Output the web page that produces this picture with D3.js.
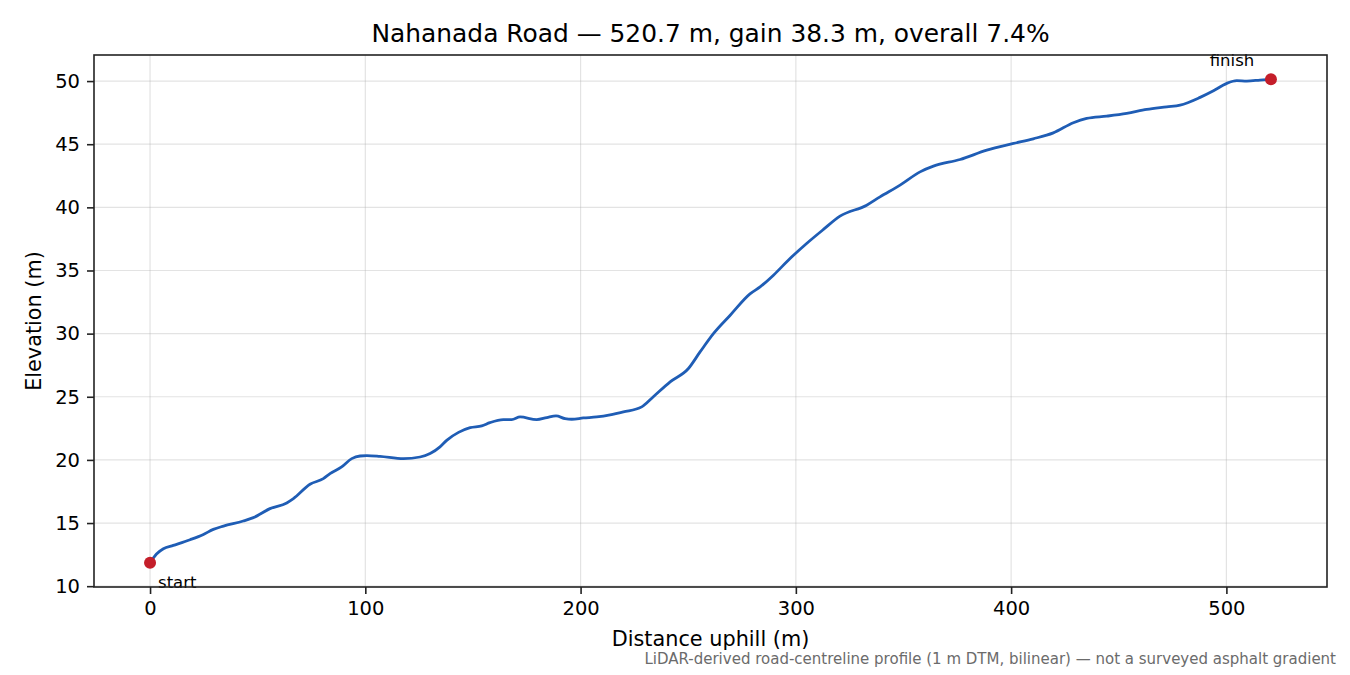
<!DOCTYPE html>
<html>
<head>
<meta charset="utf-8">
<script src="https://cdn.jsdelivr.net/npm/d3@7"></script>
<style>
  body { margin: 0; background: #fff; }
  svg { font-family: "DejaVu Sans", sans-serif; }
</style>
</head>
<body>
<div id="chart"></div>
<script>
// profile (distance m, elevation m)
const distance = [0, 3, 6.2, 10.8, 18.6, 24.8, 29.4, 34.1, 43.3, 48, 55.7, 63.5, 66.6, 74.3, 80.5, 83.6, 89,
  93.7, 97.6, 100.7, 106.8, 117.7, 125.4, 130.1, 134.7, 137.8, 143.3, 148.7, 154.1, 157.9, 164.1, 168,
  171.9, 179.6, 184.3, 188.6, 192.8, 195.9, 201.3, 207.5, 213.7, 219.9, 228.4, 233.8, 241.6, 250.1,
  255.5, 261.7, 269.4, 278.7, 283.4, 289.6, 297.3, 305, 312.8, 320.5, 332.9, 339.1, 348.4,
  357.7, 363.9, 376.3, 388.7, 401.1, 410.3, 419.6, 428.9, 435.1, 444.4, 453.7, 463, 472.3, 478.5,
  487.8, 494, 500.2, 504.8, 509.5, 515.6, 520.7];
const elevation = [11.85, 12.55, 12.97, 13.23, 13.68, 14.1, 14.5, 14.76, 15.16, 15.43, 16.14, 16.59, 16.93,
  18.07, 18.52, 18.91, 19.44, 20.1, 20.31, 20.34, 20.28, 20.1, 20.23, 20.5, 21.03, 21.55, 22.18, 22.55,
  22.69, 22.95, 23.19, 23.19, 23.4, 23.19, 23.35, 23.48, 23.27, 23.22, 23.32, 23.4, 23.56, 23.8, 24.2,
  25.0, 26.18, 27.24, 28.55, 30.0, 31.44, 33.15, 33.7, 34.63, 35.95, 37.14, 38.25, 39.3, 40.17,
  40.83, 41.76, 42.81, 43.26, 43.79, 44.53, 45.06, 45.43, 45.9, 46.7, 47.04, 47.22, 47.44, 47.75,
  47.96, 48.1, 48.71, 49.23, 49.82, 50.03, 50.0, 50.08, 50.15];
const xTicks = [0, 100, 200, 300, 400, 500];
const yTicks = [10, 15, 20, 25, 30, 35, 40, 45, 50];

const width = 1350, height = 675;
const margin = { top: 55, right: 23, bottom: 88, left: 94 };

const data = distance.map((d, i) => ({ x: d, y: elevation[i] }));

const svg = d3.select("#chart").append("svg")
  .attr("width", width)
  .attr("height", height);

// matplotlib-style 5% padding
const xMin = d3.min(distance), xMax = d3.max(distance);
const yMin = d3.min(elevation), yMax = d3.max(elevation);
const xPad = (xMax - xMin) * 0.05, yPad = (yMax - yMin) * 0.05;

const x = d3.scaleLinear()
  .domain([xMin - xPad, xMax + xPad])
  .range([margin.left, width - margin.right]);
const y = d3.scaleLinear()
  .domain([yMin - yPad, yMax + yPad])
  .range([height - margin.bottom, margin.top]);

// grid
svg.append("g")
  .selectAll("line")
  .data(xTicks)
  .enter().append("line")
  .attr("x1", d => x(d)).attr("x2", d => x(d))
  .attr("y1", margin.top).attr("y2", height - margin.bottom)
  .attr("stroke", "#b0b0b0").attr("stroke-opacity", 0.35).attr("stroke-width", 1.2);
svg.append("g")
  .selectAll("line")
  .data(yTicks)
  .enter().append("line")
  .attr("x1", margin.left).attr("x2", width - margin.right)
  .attr("y1", d => y(d)).attr("y2", d => y(d))
  .attr("stroke", "#b0b0b0").attr("stroke-opacity", 0.35).attr("stroke-width", 1.2);

// profile line
const line = d3.line()
  .x(d => x(d.x))
  .y(d => y(d.y))
  .curve(d3.curveMonotoneX);

svg.append("path")
  .datum(data)
  .attr("fill", "none")
  .attr("stroke", "#1f5db5")
  .attr("stroke-width", 2.8)
  .attr("stroke-linejoin", "round")
  .attr("d", line);

// start / finish markers
const ends = [data[0], data[data.length - 1]];
svg.selectAll("circle.end")
  .data(ends)
  .enter().append("circle")
  .attr("class", "end")
  .attr("cx", d => x(d.x))
  .attr("cy", d => y(d.y))
  .attr("r", 6)
  .attr("fill", "#c41e2a");

svg.append("text")
  .attr("x", x(ends[0].x) + 8)
  .attr("y", y(ends[0].y) + 25)
  .attr("font-size", 16.5)
  .text("start");
svg.append("text")
  .attr("x", x(ends[1].x) - 39)
  .attr("y", y(ends[1].y) - 13)
  .attr("text-anchor", "middle")
  .attr("font-size", 16.5)
  .text("finish");

// axes
const xAxis = svg.append("g")
  .attr("transform", `translate(0,${height - margin.bottom})`)
  .call(d3.axisBottom(x).tickValues(xTicks).tickSize(7).tickPadding(7).tickFormat(d3.format("d")));
const yAxis = svg.append("g")
  .attr("transform", `translate(${margin.left},0)`)
  .call(d3.axisLeft(y).tickValues(yTicks).tickSize(7).tickPadding(7).tickFormat(d3.format("d")));

[xAxis, yAxis].forEach(g => {
  g.select(".domain").remove();
  g.selectAll("text").attr("font-size", 19.5).attr("fill", "#000").attr("font-family", "DejaVu Sans");
  g.selectAll("line").attr("stroke", "#222").attr("stroke-width", 1.6);
});

// frame
svg.append("rect")
  .attr("x", margin.left).attr("y", margin.top)
  .attr("width", width - margin.left - margin.right)
  .attr("height", height - margin.top - margin.bottom)
  .attr("fill", "none").attr("stroke", "#222").attr("stroke-width", 1.6);

// labels
svg.append("text")
  .attr("x", (margin.left + width - margin.right) / 2)
  .attr("y", 42)
  .attr("text-anchor", "middle")
  .attr("font-size", 24.9)
  .text("Nahanada Road \u2014 520.7 m, gain 38.3 m, overall 7.4%");

svg.append("text")
  .attr("x", (margin.left + width - margin.right) / 2)
  .attr("y", 646)
  .attr("text-anchor", "middle")
  .attr("font-size", 20.8)
  .text("Distance uphill (m)");

svg.append("text")
  .attr("transform", `translate(41,${(margin.top + height - margin.bottom) / 2}) rotate(-90)`)
  .attr("text-anchor", "middle")
  .attr("font-size", 20.8)
  .text("Elevation (m)");

svg.append("text")
  .attr("x", 1336)
  .attr("y", 664)
  .attr("text-anchor", "end")
  .attr("font-size", 15)
  .attr("fill", "#6b6b6b")
  .text("LiDAR-derived road-centreline profile (1 m DTM, bilinear) \u2014 not a surveyed asphalt gradient");
</script>
</body>
</html>
